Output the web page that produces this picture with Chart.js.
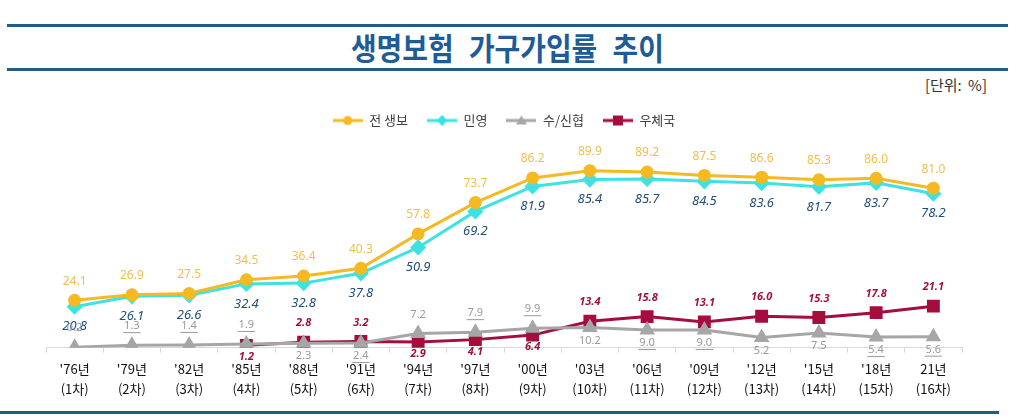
<!DOCTYPE html>
<html><head><meta charset="utf-8">
<script src="https://cdn.jsdelivr.net/npm/chart.js@4.4.1/dist/chart.umd.min.js"></script>
<style>
html,body{margin:0;padding:0;background:#fff;width:1015px;height:419px;overflow:hidden;position:relative;font-family:"Noto Sans CJK KR","Noto Sans",sans-serif;}
.rule{position:absolute;height:3px;background:#215E86;}
#title{position:absolute;left:0;width:1015px;top:26px;text-align:center;font-size:31px;font-weight:bold;color:#1E5C97;line-height:42px;word-spacing:10px;transform:scaleX(0.9);transform-origin:507px 0;}
#unit{position:absolute;right:28px;top:74px;font-size:15px;color:#333;word-spacing:3px;}
#wrap{position:absolute;left:0;top:95px;width:1015px;height:319px;}
</style></head>
<body>
<div class="rule" style="left:7px;width:1001px;top:24px"></div>
<div id="title">생명보험 가구가입률 추이</div>
<div class="rule" style="left:7px;width:1001px;top:68px"></div>
<div id="unit">[단위: %]</div>
<div id="wrap"><canvas id="c" width="1015" height="319"></canvas></div>
<div class="rule" style="left:0;width:999px;top:411px"></div>
<script>
// ---- data ----
const categories = ["'76년","'79년","'82년","'85년","'88년","'91년","'94년","'97년","'00년","'03년","'06년","'09년","'12년","'15년","'18년","21년"];
const rounds = ["(1차)","(2차)","(3차)","(4차)","(5차)","(6차)","(7차)","(8차)","(9차)","(10차)","(11차)","(12차)","(13차)","(14차)","(15차)","(16차)"];
const seriesNames = ["전 생보","민영","수/신협","우체국"];
const totalLife = [24.1,26.9,27.5,34.5,36.4,40.3,57.8,73.7,86.2,89.9,89.2,87.5,86.6,85.3,86.0,81.0];
const privateLife = [20.8,26.1,26.6,32.4,32.8,37.8,50.9,69.2,81.9,85.4,85.7,84.5,83.6,81.7,83.7,78.2];
const coopLife = [0.2,1.3,1.4,1.9,2.3,2.4,7.2,7.9,9.9,10.2,9.0,9.0,5.2,7.5,5.4,5.6];
const postLife = [null,null,null,1.2,2.8,3.2,2.9,4.1,6.4,13.4,15.8,13.1,16.0,15.3,17.8,21.1];

// ---- label placement / style (not data) ----
const placeTotal = Array(16).fill('above');
const placePrivate = Array(16).fill('below');
const placeCoop = ['above','above','above','above','below','below','above','above','above','below','below','below','below','below','below','below'];
const placePost = ['above','above','above','below','above','above','below','below','below','above','above','above','above','above','above','above'];
const underlineCoop = [false,true,true,true,false,true,false,true,true,false,true,true,false,false,true,true];

const styles = [
  {color:'#F5B922', label:'#F0BE4C', font:'normal 12px "Noto Sans","DejaVu Sans",sans-serif', point:'circle', r:5, place:placeTotal, up:19, down:19},
  {color:'#3DE3E3', label:'#1F4E79', font:'italic 13px "Noto Sans","DejaVu Sans",sans-serif', point:'rectRot', r:6, place:placePrivate, up:19, down:20},
  {color:'#A6A6A6', label:'#9A9A9A', font:'normal 11px "Noto Sans","DejaVu Sans",sans-serif', point:'triangle', r:6, place:placeCoop, up:19, down:13, underline:underlineCoop},
  {color:'#A50D3C', label:'#A0123E', font:'italic bold 11px "Noto Sans","DejaVu Sans",sans-serif', point:'rect', r:7, place:placePost, up:19, down:12}
];

function legendIcon(st){
  const cv = document.createElement('canvas');
  cv.width = 30; cv.height = 14;
  const g = cv.getContext('2d');
  g.strokeStyle = st.color; g.fillStyle = st.color; g.lineWidth = 3;
  g.beginPath(); g.moveTo(0,7); g.lineTo(30,7); g.stroke();
  const cx = 15, cy = 7;
  g.beginPath();
  if (st.point === 'circle') { g.arc(cx,cy,4.5,0,Math.PI*2); }
  else if (st.point === 'rectRot') { g.moveTo(cx,cy-5.5); g.lineTo(cx+5.5,cy); g.lineTo(cx,cy+5.5); g.lineTo(cx-5.5,cy); g.closePath(); }
  else if (st.point === 'triangle') { g.moveTo(cx,cy-5); g.lineTo(cx+5.5,cy+4); g.lineTo(cx-5.5,cy+4); g.closePath(); }
  else { g.rect(cx-5,cy-5,10,10); }
  g.fill();
  return cv;
}
const icons = styles.map(legendIcon);

const valueLists = [totalLife, privateLife, coopLife, postLife];
const datasets = valueLists.map((vals, i) => ({
  label: seriesNames[i],
  data: vals,
  borderColor: styles[i].color,
  backgroundColor: styles[i].color,
  pointBackgroundColor: styles[i].color,
  pointBorderColor: styles[i].color,
  pointStyle: styles[i].point,
  pointRadius: styles[i].r,
  pointHoverRadius: styles[i].r,
  borderWidth: 3,
  tension: 0,
  spanGaps: false
}));

const labelPlugin = {
  id: 'valueLabels',
  afterDatasetsDraw(chart) {
    const ctx = chart.ctx;
    ctx.save();
    ctx.textAlign = 'center';
    ctx.textBaseline = 'middle';
    chart.data.datasets.forEach((ds, i) => {
      const st = styles[i];
      const meta = chart.getDatasetMeta(i);
      meta.data.forEach((el, j) => {
        const v = ds.data[j];
        if (v === null || v === undefined) return;
        const txt = v.toFixed(1);
        const y = st.place[j] === 'above' ? el.y - st.up : el.y + st.down;
        ctx.font = st.font;
        ctx.fillStyle = st.label;
        ctx.fillText(txt, el.x, y);
        if (st.underline && st.underline[j]) {
          const w = ctx.measureText(txt).width;
          ctx.fillRect(el.x - w/2 - 1, y + 6, w + 2, 1);
        }
      });
    });
    ctx.restore();
  }
};

new Chart(document.getElementById('c'), {
  type: 'line',
  data: {
    labels: categories.map((c, i) => [c, rounds[i]]),
    datasets: datasets
  },
  options: {
    responsive: false,
    animation: false,
    layout: { padding: { left: 46, right: 53, top: 0, bottom: 9 } },
    plugins: {
      tooltip: { enabled: false },
      legend: {
        position: 'top',
        align: 'center',
        labels: {
          usePointStyle: true,
          pointStyleWidth: 30,
          padding: 19,
          color: '#404040',
          font: { family: '"Noto Sans CJK KR","Noto Sans",sans-serif', size: 13 },
          generateLabels(chart) {
            return chart.data.datasets.map((ds, i) => ({
              text: ds.label,
              pointStyle: icons[i],
              fillStyle: styles[i].color,
              strokeStyle: styles[i].color,
              lineWidth: 0,
              hidden: false,
              datasetIndex: i,
              fontColor: '#404040'
            }));
          }
        }
      }
    },
    scales: {
      x: {
        offset: true,
        grid: { display: true, offset: true, drawOnChartArea: false, tickLength: 5, color: '#D9D9D9' },
        border: { display: true, color: '#D9D9D9', width: 1 },
        ticks: {
          padding: 6,
          color: '#111',
          maxRotation: 0,
          autoSkip: false,
          font: { family: '"Noto Sans CJK KR","Noto Sans",sans-serif', size: 13, lineHeight: 1.55 }
        }
      },
      y: {
        display: false,
        min: 0,
        max: 107
      }
    }
  },
  plugins: [labelPlugin]
});
</script>
</body></html>
